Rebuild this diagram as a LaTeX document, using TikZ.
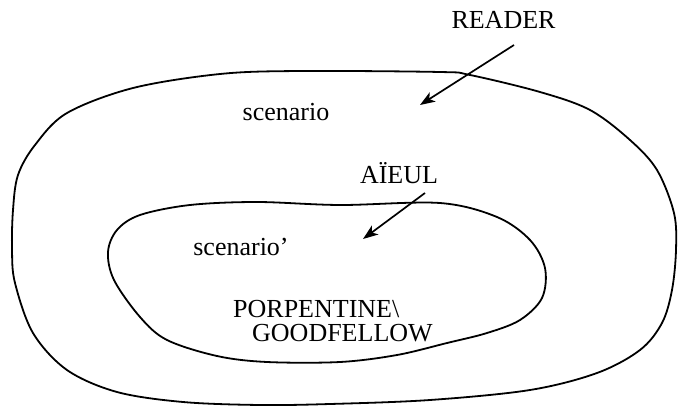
\documentclass[tikz,border=0pt]{standalone}
\usepackage{fontspec}
\setmainfont{Liberation Serif}
\usetikzlibrary{arrows.meta}
\tikzset{
  loopline/.style={line width=1.8pt, line join=round},
  label/.style={inner sep=0pt, font=\fontsize{26}{30}\selectfont},
  pointer/.style={line width=1.7pt, -{Stealth[length=15pt,width=11pt,inset=4pt]}}
}
\begin{document}
\begin{tikzpicture}[x=1pt,y=-1pt]
\useasboundingbox (0,0) rectangle (678,407);
% outer loop
\draw[loopline] plot[smooth cycle, tension=0.55] coordinates {
 (300,71) (440,72) (470,75) (540,92) (590,110) (630,140) (657,170) (674,213)
 (676,250) (672,290) (662,323) (640,350) (597,373) (530,390) (430,400)
 (330,404) (260,405) (183,402) (117,392) (67,370) (33,333) (15,283)
 (12,250) (13,210) (18,175) (35,145) (67,113) (133,88) (220,74)};
% inner loop
\draw[loopline] plot[smooth cycle, tension=0.55] coordinates {
 (190,205) (257,202) (340,205) (440,203) (497,217) (530,240) (545,268)
 (542,298) (520,320) (487,333) (447,343) (397,355) (340,362) (267,362)
 (217,356) (167,340) (140,317) (114,280) (108,252) (117,230) (140,215)};
% labels
\node[label, anchor=base] (reader) at (503.5,28) {READER};
\node[label, anchor=base] (scen) at (286,120) {scenario};
\node[label, anchor=base] (aieul) at (399,183) {AÏEUL};
\node[label, anchor=base] (scenp) at (241,255) {scenario’};
\node[label, anchor=base west] (porp) at (233,317) {PORPENTINE\textbackslash};
\node[label, anchor=base west] (good) at (252,341) {GOODFELLOW};
% arrows
\coordinate (r1) at (514,45);
\coordinate (r2) at (420,105);
\coordinate (a1) at (425,193);
\coordinate (a2) at (363,239);
\draw[pointer] (r1) -- (r2);
\draw[pointer] (a1) -- (a2);
\end{tikzpicture}
\end{document}
